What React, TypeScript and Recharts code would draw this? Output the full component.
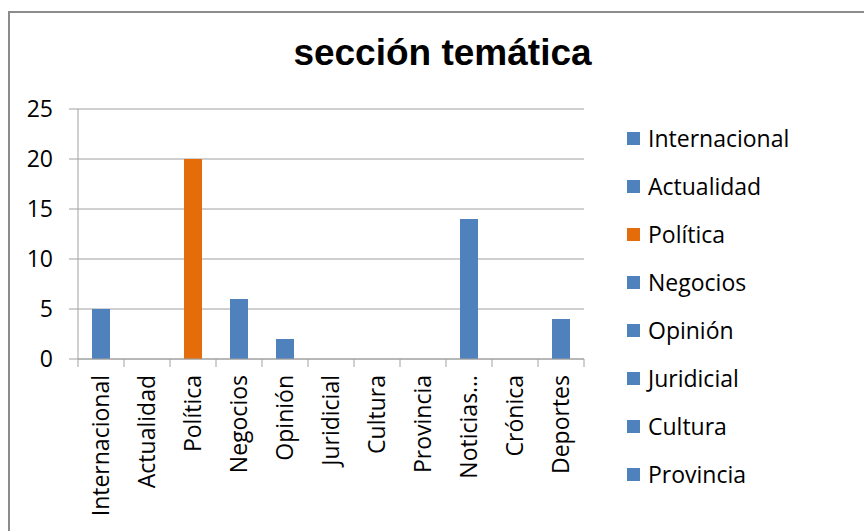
import { BarChart, Bar, XAxis, YAxis, CartesianGrid, Legend, Cell } from 'recharts';

const categories = [
  'Internacional',
  'Actualidad',
  'Política',
  'Negocios',
  'Opinión',
  'Juridicial',
  'Cultura',
  'Provincia',
  'Noticias…',
  'Crónica',
  'Deportes',
];
const counts = [5, 0, 20, 6, 2, 0, 0, 0, 14, 0, 4];
const legendNames = [
  'Internacional',
  'Actualidad',
  'Política',
  'Negocios',
  'Opinión',
  'Juridicial',
  'Cultura',
  'Provincia',
];
const yTicks = [0, 5, 10, 15, 20, 25];

const BLUE = '#4f81bd';
const ORANGE = '#e46c0a';
const GRID = '#a0a0a0';
const FONT = '"Open Sans", "Noto Sans", sans-serif';
const FS = 23;

const barColor = (name: string) => (name === 'Política' ? ORANGE : BLUE);

const data = categories.map((name, i) => ({ name, value: counts[i] }));

function CategoryTick(props: any) {
  const { x, y, payload, index } = props;
  const band = (props.width || 506) / categories.length;
  const axisY = y - 16;
  const left = x - band / 2;
  const right = x + band / 2;
  return (
    <g>
      <line x1={left} y1={axisY} x2={left} y2={axisY + 8} stroke={GRID} />
      {index === categories.length - 1 && (
        <line x1={right} y1={axisY} x2={right} y2={axisY + 8} stroke={GRID} />
      )}
      <text
        x={x}
        y={y}
        dy="0.35em"
        transform={`rotate(-90, ${x}, ${y})`}
        textAnchor="end"
        fill="#000"
        fontSize={FS}
        fontFamily={FONT}
      >
        {payload.value}
      </text>
    </g>
  );
}

function LegendBox() {
  return (
    <div style={{ fontFamily: FONT, fontSize: FS, color: '#000' }}>
      {legendNames.map((name) => (
        <div key={name} style={{ height: 48, display: 'flex', alignItems: 'center' }}>
          <span
            style={{
              display: 'inline-block',
              width: 13,
              height: 13,
              background: barColor(name),
              marginRight: 8,
            }}
          />
          <span>{name}</span>
        </div>
      ))}
    </div>
  );
}

export default function App() {
  return (
    <div style={{ position: 'absolute', left: 0, top: 0, width: 864, height: 531, background: '#fff', overflow: 'hidden' }}>
      <div
        style={{
          position: 'absolute',
          left: 8,
          top: 11,
          width: 900,
          height: 600,
          borderLeft: '2px solid #8c8c8c',
          borderTop: '2px solid #8c8c8c',
        }}
      />
      <div
        style={{
          position: 'absolute',
          left: 0,
          top: 34,
          width: 885,
          textAlign: 'center',
          fontFamily: '"Liberation Sans", Arial, sans-serif',
          fontWeight: 'bold',
          fontSize: 37,
          lineHeight: '37px',
          color: '#000',
        }}
      >
        sección temática
      </div>
      <div style={{ position: 'absolute', left: 0, top: 0 }}>
        <BarChart
          width={864}
          height={531}
          data={data}
          margin={{ top: 109, right: 60, bottom: 0, left: 18 }}
        >
          <CartesianGrid vertical={false} stroke={GRID} />
          <XAxis
            dataKey="name"
            interval={0}
            height={172}
            tickSize={8}
            tickMargin={8}
            tickLine={false}
            axisLine={{ stroke: GRID }}
            tick={<CategoryTick />}
          />
          <YAxis
            domain={[0, 25]}
            ticks={yTicks}
            width={60}
            tickSize={9}
            tickMargin={16}
            axisLine={{ stroke: GRID }}
            tickLine={{ stroke: GRID }}
            tick={{ fill: '#000', fontSize: FS, fontFamily: FONT }}
          />
          <Legend
            layout="vertical"
            align="right"
            verticalAlign="top"
            content={<LegendBox />}
            wrapperStyle={{ position: 'absolute', left: 627, top: 114, width: 220 }}
          />
          <Bar dataKey="value" barSize={18} isAnimationActive={false}>
            {data.map((d) => (
              <Cell key={d.name} fill={barColor(d.name)} />
            ))}
          </Bar>
        </BarChart>
      </div>
    </div>
  );
}
